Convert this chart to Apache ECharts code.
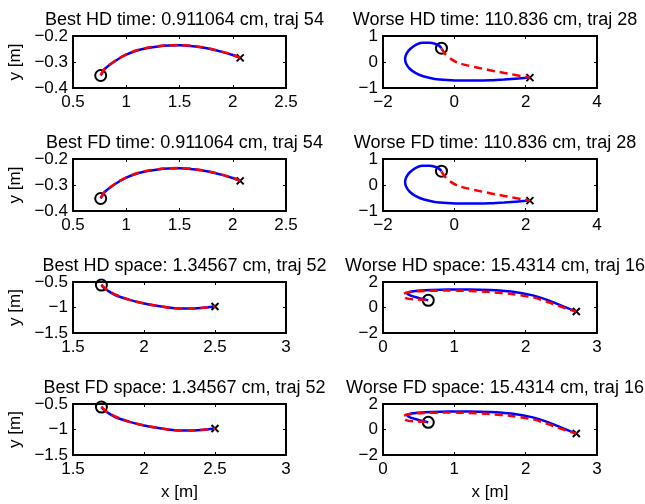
<!DOCTYPE html>
<html><head><meta charset="utf-8">
<script src="https://cdn.jsdelivr.net/npm/echarts@6/dist/echarts.min.js"></script>
<style>html,body{margin:0;padding:0;background:#fff}#c{width:645px;height:504px}</style>
</head><body><div id="c"></div><script>
// ---- data ----
const titles = [
  'Best HD time: 0.911064 cm, traj 54', 'Worse HD time: 110.836 cm, traj 28',
  'Best FD time: 0.911064 cm, traj 54', 'Worse FD time: 110.836 cm, traj 28',
  'Best HD space: 1.34567 cm, traj 52', 'Worse HD space: 15.4314 cm, traj 16',
  'Best FD space: 1.34567 cm, traj 52', 'Worse FD space: 15.4314 cm, traj 16'
];
// axis ranges [min, max, interval]
const xRangeBestTime = [0.5, 2.5, 0.5];
const yRangeBestTime = [-0.4, -0.2, 0.1];
const xRangeWorseTime = [-2, 4, 2];
const yRangeWorseTime = [-1, 1, 1];
const xRangeBestSpace = [1.5, 3, 0.5];
const yRangeBestSpace = [-1.5, -0.5, 0.5];
const xRangeWorseSpace = [0, 3, 1];
const yRangeWorseSpace = [-2, 2, 2];

const bestTimeBlue = [[0.76,-0.352],[0.8,-0.326],[0.9,-0.295],[1.0,-0.272],[1.1,-0.256],[1.2,-0.246],[1.3,-0.240],[1.4,-0.237],[1.5,-0.236],[1.6,-0.238],[1.7,-0.243],[1.8,-0.251],[1.9,-0.261],[2.0,-0.273],[2.07,-0.284]];
const bestTimeRed  = [[0.76,-0.350],[0.8,-0.325],[0.9,-0.294],[1.0,-0.271],[1.1,-0.255],[1.2,-0.245],[1.3,-0.239],[1.4,-0.236],[1.5,-0.235],[1.6,-0.237],[1.7,-0.242],[1.8,-0.250],[1.9,-0.260],[2.0,-0.272],[2.07,-0.284]];
const bestTimeStart = [0.76, -0.352];
const bestTimeEnd = [2.07, -0.284];

const worseTimeBlue = [[-0.36,0.53],[-0.42,0.62],[-0.52,0.69],[-0.7,0.74],[-0.9,0.74],[-1.08,0.66],[-1.24,0.5],[-1.34,0.32],[-1.38,0.12],[-1.35,-0.07],[-1.25,-0.26],[-1.08,-0.43],[-0.85,-0.56],[-0.55,-0.65],[-0.2,-0.69],[0.2,-0.71],[0.6,-0.71],[1.0,-0.70],[1.4,-0.67],[1.8,-0.63],[2.12,-0.6]];
const worseTimeRed  = [[-0.36,0.52],[-0.25,0.3],[-0.1,0.12],[0.1,-0.03],[0.4,-0.14],[0.8,-0.26],[1.2,-0.37],[1.6,-0.47],[1.9,-0.55],[2.12,-0.6]];
const worseTimeStart = [-0.36, 0.53];
const worseTimeEnd = [2.12, -0.6];

const bestSpaceBlue = [[1.70,-0.56],[1.72,-0.62],[1.75,-0.68],[1.8,-0.76],[1.9,-0.85],[2.0,-0.92],[2.1,-0.97],[2.2,-1.01],[2.3,-1.02],[2.4,-1.01],[2.5,-0.98]];
const bestSpaceRed  = [[1.70,-0.55],[1.72,-0.61],[1.75,-0.67],[1.8,-0.75],[1.9,-0.85],[2.0,-0.92],[2.1,-0.97],[2.2,-1.01],[2.3,-1.02],[2.4,-1.01],[2.5,-0.98]];
const bestSpaceStart = [1.70, -0.56];
const bestSpaceEnd = [2.5, -0.98];

const worseSpaceBlue = [[0.635,0.56],[0.5,0.75],[0.38,0.95],[0.34,1.1],[0.4,1.25],[0.6,1.35],[0.9,1.41],[1.2,1.42],[1.5,1.38],[1.8,1.25],[2.1,0.95],[2.3,0.6],[2.5,0.15],[2.71,-0.32]];
const worseSpaceRed  = [[0.6,0.6],[0.45,0.63],[0.33,0.72],[0.28,1.0],[0.35,1.2],[0.6,1.3],[0.9,1.33],[1.2,1.3],[1.5,1.21],[1.8,1.06],[2.1,0.8],[2.3,0.45],[2.5,0.05],[2.71,-0.32]];
const worseSpaceStart = [0.635, 0.56];
const worseSpaceEnd = [2.71, -0.32];

// ---- layout ----
const FONT = '"Liberation Sans", Arial, Helvetica, sans-serif';
const FS = 17;
const TFS = 18;
const lefts = [73, 383];
const widths = [213, 214];
const tops = [36, 159, 282, 404];
const heights = [52, 52, 51, 51];

const panels = [
  {x: xRangeBestTime, y: yRangeBestTime, blue: bestTimeBlue, red: bestTimeRed, s: bestTimeStart, e: bestTimeEnd},
  {x: xRangeWorseTime, y: yRangeWorseTime, blue: worseTimeBlue, red: worseTimeRed, s: worseTimeStart, e: worseTimeEnd},
  {x: xRangeBestTime, y: yRangeBestTime, blue: bestTimeBlue, red: bestTimeRed, s: bestTimeStart, e: bestTimeEnd},
  {x: xRangeWorseTime, y: yRangeWorseTime, blue: worseTimeBlue, red: worseTimeRed, s: worseTimeStart, e: worseTimeEnd},
  {x: xRangeBestSpace, y: yRangeBestSpace, blue: bestSpaceBlue, red: bestSpaceRed, s: bestSpaceStart, e: bestSpaceEnd},
  {x: xRangeWorseSpace, y: yRangeWorseSpace, blue: worseSpaceBlue, red: worseSpaceRed, s: worseSpaceStart, e: worseSpaceEnd},
  {x: xRangeBestSpace, y: yRangeBestSpace, blue: bestSpaceBlue, red: bestSpaceRed, s: bestSpaceStart, e: bestSpaceEnd},
  {x: xRangeWorseSpace, y: yRangeWorseSpace, blue: worseSpaceBlue, red: worseSpaceRed, s: worseSpaceStart, e: worseSpaceEnd}
];

const fmt = v => { const n = parseFloat(Number(v).toFixed(4)); return (n < 0 ? '\u2212' + Math.abs(n) : String(n)); };

const grid = [], xAxis = [], yAxis = [], series = [], title = [];
panels.forEach((p, i) => {
  const row = Math.floor(i / 2), col = i % 2;
  grid.push({left: lefts[col], width: widths[col], top: tops[row], height: heights[row],
    show: true, borderColor: '#000', borderWidth: 2, backgroundColor: 'transparent', containLabel: false});
  title.push({text: titles[i], left: lefts[col] + widths[col] / 2, top: tops[row] - 30, textAlign: 'center',
    textStyle: {fontFamily: FONT, fontSize: TFS, fontWeight: 'normal', color: '#000'}});
  const tick = {show: true, inside: true, length: 3, lineStyle: {color: '#000', width: 1}};
  const line = {show: false, onZero: false};
  const isBottom = row === 3;
  xAxis.push({gridIndex: i, type: 'value', position: 'bottom', min: p.x[0], max: p.x[1], interval: p.x[2],
    axisLine: line, axisTick: tick, splitLine: {show: false},
    axisLabel: {show: true, margin: 6, formatter: fmt, color: '#000', fontFamily: FONT, fontSize: FS},
    name: isBottom ? 'x [m]' : '', nameLocation: 'middle', nameGap: 29,
    nameTextStyle: {fontFamily: FONT, fontSize: FS, color: '#000'}});
  xAxis.push({gridIndex: i, type: 'value', position: 'top', min: p.x[0], max: p.x[1], interval: p.x[2],
    axisLine: line, axisTick: tick, splitLine: {show: false}, axisLabel: {show: false}});
  yAxis.push({gridIndex: i, type: 'value', position: 'left', min: p.y[0], max: p.y[1], interval: p.y[2],
    axisLine: line, axisTick: tick, splitLine: {show: false},
    axisLabel: {show: true, margin: 5, formatter: fmt, color: '#000', fontFamily: FONT, fontSize: FS},
    name: col === 0 ? 'y [m]' : '', nameLocation: 'middle', nameGap: 49, nameRotate: 90,
    nameTextStyle: {fontFamily: FONT, fontSize: FS, color: '#000'}});
  yAxis.push({gridIndex: i, type: 'value', position: 'right', min: p.y[0], max: p.y[1], interval: p.y[2],
    axisLine: line, axisTick: tick, splitLine: {show: false}, axisLabel: {show: false}});
  const xi = 2 * i, yi = 2 * i;
  series.push({type: 'line', xAxisIndex: xi, yAxisIndex: yi, data: p.blue, smooth: 0.25, showSymbol: false,
    lineStyle: {color: '#0000ff', width: 2.5}, animation: false, silent: true});
  series.push({type: 'line', xAxisIndex: xi, yAxisIndex: yi, data: p.red, smooth: 0.25, showSymbol: false,
    lineStyle: {color: '#ff0000', width: 2.5, type: [8, 5]}, animation: false, silent: true});
  series.push({type: 'scatter', xAxisIndex: xi, yAxisIndex: yi, data: [p.s], symbol: 'circle', symbolSize: 11,
    itemStyle: {color: 'none', borderColor: '#000', borderWidth: 2, opacity: 1}, animation: false, silent: true});
  series.push({type: 'scatter', xAxisIndex: xi, yAxisIndex: yi, data: [p.e], symbol: 'path://M0,0L10,10M10,0L0,10', symbolSize: 7,
    itemStyle: {color: 'none', borderColor: '#000', borderWidth: 2, opacity: 1}, animation: false, silent: true});
});

const chart = echarts.init(document.getElementById('c'), null, {renderer: 'canvas'});
chart.setOption({backgroundColor: '#fff', animation: false, title, grid, xAxis, yAxis, series});
</script></body></html>
